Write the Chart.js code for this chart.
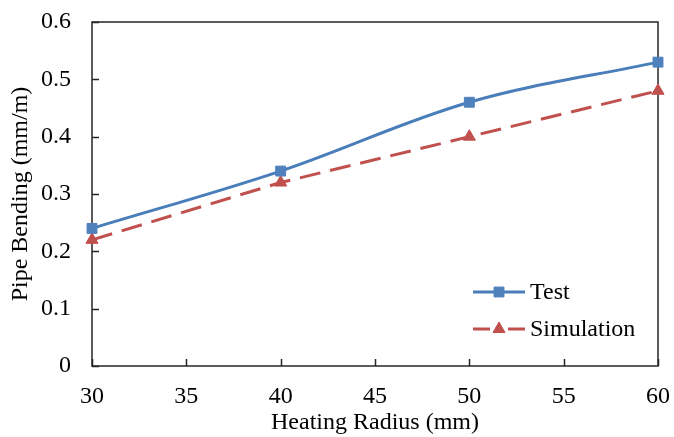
<!DOCTYPE html>
<html>
<head>
<meta charset="utf-8">
<script src="https://cdn.jsdelivr.net/npm/chart.js@4.4.0/dist/chart.umd.min.js"></script>
<style>
html,body{margin:0;padding:0;background:#fff;}
#wrap{width:674px;height:437px;position:relative;}
</style>
</head>
<body>
<div id="wrap"><canvas id="c" width="674" height="437"></canvas></div>
<script>
const heatingRadius = [30, 40, 50, 60];
const testValues = [0.24, 0.34, 0.46, 0.53];
const simulationValues = [0.22, 0.32, 0.40, 0.48];
const seriesNames = ['Test', 'Simulation'];
const xTitle = 'Heating Radius (mm)';
const yTitle = 'Pipe Bending (mm/m)';

const FONT = '"Liberation Serif", "Times New Roman", serif';
const FS = 24;

function zeroPad(s) { s.paddingLeft = 0; s.paddingRight = 0; s.paddingTop = 0; s.paddingBottom = 0; }

const frameAndTicks = {
  id: 'frameAndTicks',
  beforeDatasetsDraw(chart) {
    const {ctx, chartArea: a, scales} = chart;
    ctx.save();
    ctx.strokeStyle = '#262626';
    ctx.lineWidth = 1.5;
    ctx.strokeRect(a.left, a.top, a.right - a.left, a.bottom - a.top);
    ctx.beginPath();
    scales.y.ticks.forEach(t => {
      const py = Math.round(scales.y.getPixelForValue(t.value)) + 0.5;
      ctx.moveTo(a.left, py); ctx.lineTo(a.left + 7, py);
    });
    scales.x.ticks.forEach(t => {
      const px = Math.round(scales.x.getPixelForValue(t.value)) + 0.5;
      ctx.moveTo(px, a.bottom); ctx.lineTo(px, a.bottom - 7);
    });
    ctx.stroke();
    ctx.restore();
  },
  afterDraw(chart) {
    const {ctx} = chart;
    const rows = [{y: 292}, {y: 329}];
    ctx.save();
    chart.data.datasets.forEach((ds, i) => {
      const y = rows[i].y;
      const x0 = 473, x1 = 525;
      ctx.strokeStyle = ds.borderColor;
      ctx.lineWidth = ds.borderWidth;
      ctx.setLineDash([]);
      ctx.beginPath();
      if (ds.borderDash && ds.borderDash.length) {
        ctx.moveTo(x0, y); ctx.lineTo(x0 + 17, y);
        ctx.moveTo(x1 - 17, y); ctx.lineTo(x1, y);
      } else {
        ctx.moveTo(x0, y); ctx.lineTo(x1, y);
      }
      ctx.stroke();
      ctx.fillStyle = ds.pointBackgroundColor;
      ctx.strokeStyle = ds.pointBorderColor;
      ctx.lineWidth = 1;
      Chart.helpers.drawPoint(ctx, {pointStyle: ds.pointStyle, radius: ds.pointRadius, rotation: 0, borderWidth: 1}, (x0 + x1) / 2, y);
      ctx.fillStyle = '#000';
      ctx.font = FS + 'px ' + FONT;
      ctx.textBaseline = 'middle';
      ctx.textAlign = 'left';
      ctx.fillText(ds.label, 530, y + 1);
    });
    ctx.restore();
  }
};

const ctx = document.getElementById('c').getContext('2d');
new Chart(ctx, {
  type: 'line',
  data: {
    datasets: [
      {
        label: seriesNames[0],
        data: heatingRadius.map((x, i) => ({x: x, y: testValues[i]})),
        borderColor: '#4A7EBB',
        backgroundColor: '#4F81BD',
        borderWidth: 3,
        tension: 0.35,
        pointStyle: 'rect',
        pointRadius: 7,
        pointBackgroundColor: '#4F81BD',
        pointBorderColor: '#4F81BD',
        pointBorderWidth: 1,
        clip: false
      },
      {
        label: seriesNames[1],
        data: heatingRadius.map((x, i) => ({x: x, y: simulationValues[i]})),
        borderColor: '#C0504D',
        backgroundColor: '#C0504D',
        borderWidth: 3,
        borderDash: [21, 10],
        tension: 0,
        pointStyle: 'triangle',
        pointRadius: 7,
        pointBackgroundColor: '#C0504D',
        pointBorderColor: '#C0504D',
        pointBorderWidth: 1,
        clip: false
      }
    ]
  },
  options: {
    responsive: false,
    animation: false,
    devicePixelRatio: 1,
    layout: {autoPadding: false, padding: {left: 0, top: 22, right: 16, bottom: 0}},
    plugins: {legend: {display: false}, tooltip: {enabled: false}},
    scales: {
      x: {
        type: 'linear',
        min: 30, max: 60,
        grid: {display: false, drawTicks: false},
        border: {display: false},
        ticks: {stepSize: 5, color: '#000', font: {family: FONT, size: FS}, padding: 16, maxRotation: 0},
        title: {display: true, text: xTitle, color: '#000', font: {family: FONT, size: FS}, padding: {top: 0, bottom: 0}},
        afterFit(s) { s.height = 71; zeroPad(s); }
      },
      y: {
        type: 'linear',
        min: 0, max: 0.6,
        grid: {display: false, drawTicks: false},
        border: {display: false},
        ticks: {stepSize: 0.1, color: '#000', font: {family: FONT, size: FS}, padding: 21},
        title: {display: true, text: yTitle, color: '#000', font: {family: FONT, size: FS}, padding: {top: 6, bottom: 0}},
        afterFit(s) { s.width = 92; zeroPad(s); }
      }
    }
  },
  plugins: [frameAndTicks]
});
</script>
</body>
</html>
